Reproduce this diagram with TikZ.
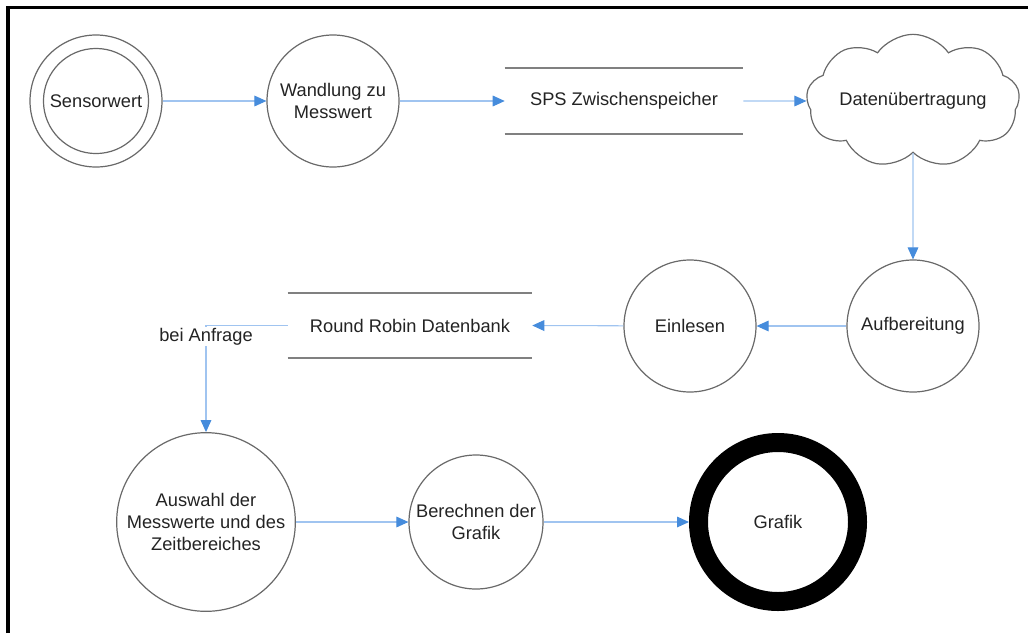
\documentclass[tikz,border=0pt]{standalone}
\usepackage{fontspec}
\setmainfont{Liberation Sans}
\usetikzlibrary{arrows.meta,shapes.symbols}

\definecolor{flowblue}{RGB}{160,196,240}
\definecolor{tipblue}{RGB}{70,140,220}
\definecolor{rimgray}{RGB}{105,105,105}
\definecolor{textgray}{RGB}{35,35,35}

\tikzset{
  state/.style={circle, draw=rimgray, line width=0.9pt, minimum size=99pt,
    inner sep=0pt, align=center, text=textgray},
  store/.style={minimum width=178.5pt, minimum height=49.5pt, inner sep=0pt, text=textgray},
  storeline/.style={draw=gray, line width=1.2pt},
  flow/.style={draw=flowblue, line width=0.8pt,
    -{Triangle[length=9pt,width=8pt,color=tipblue]}},
}

\begin{document}
\begin{tikzpicture}[x=0.75pt, y=-0.75pt, font=\fontsize{13.7pt}{16.3pt}\selectfont]
  \useasboundingbox (0,0) rectangle (1028,633);
  % frame (top and left only)
  \draw[line width=2.4pt] (8,633) -- (8,7.5) -- (1028,7.5);

  % top row
  \node[state] (sensor) at (96,101) {Sensorwert};
  \draw[rimgray, line width=0.9pt] (sensor.center) circle[radius=39.4pt];
  \node[state] (wandlung) at (333,101) {Wandlung zu\\Messwert};
  \node[store] (sps) at (624,101) {SPS Zwischenspeicher};
  \node[cloud, cloud puffs=9, cloud puff arc=110, cloud ignores aspect,
    draw=rimgray, line width=0.9pt, minimum width=160pt, minimum height=100pt]
    (funk) at (913,101) {};
  \node[text=textgray] (funktext) at (funk.center) {Datenübertragung};

  % middle row
  \node[state] (aufb) at (913,326) {Aufbereitung};
  \node[state] (einlesen) at (690,326) {Einlesen};
  \node[store, minimum width=183pt, minimum height=48.75pt] (rrd) at (410,325.5) {Round Robin Datenbank};

  % bottom row
  \node[state, minimum size=134pt] (auswahl) at (206,522) {Auswahl der\\Messwerte und des\\Zeitbereiches};
  \node[state, minimum size=100.5pt] (berechnen) at (476,522) {Berechnen der\\Grafik};
  \node[state, draw=black, line width=14.25pt, minimum size=119.25pt] (grafik) at (778,522) {Grafik};

  % storage lines
  \draw[storeline] (sps.north west) -- (sps.north east) (sps.south west) -- (sps.south east);
  \draw[storeline] (rrd.north west) -- (rrd.north east) (rrd.south west) -- (rrd.south east);

  % connectors
  \draw[flow] (sensor) -- (wandlung);
  \draw[flow] (wandlung) -- (sps.west);
  \draw[flow] (sps.east) -- (funk.west);
  \draw[flow] (funk.south) -- (aufb.north);
  \draw[flow] (aufb) -- (einlesen);
  \draw[flow] (einlesen) -- (rrd.east);
  \coordinate (ask) at (206,325.5);
  \draw[flow] (rrd.west) -- (ask) -- (auswahl.north);
  \node[fill=white, inner sep=0.6pt, anchor=north, text=textgray] (anfrage)
    at ([yshift=-1pt]ask) {bei Anfrage};
  \draw[flow] (auswahl) -- (berechnen);
  \draw[flow] (berechnen) -- (grafik);
\end{tikzpicture}
\end{document}
